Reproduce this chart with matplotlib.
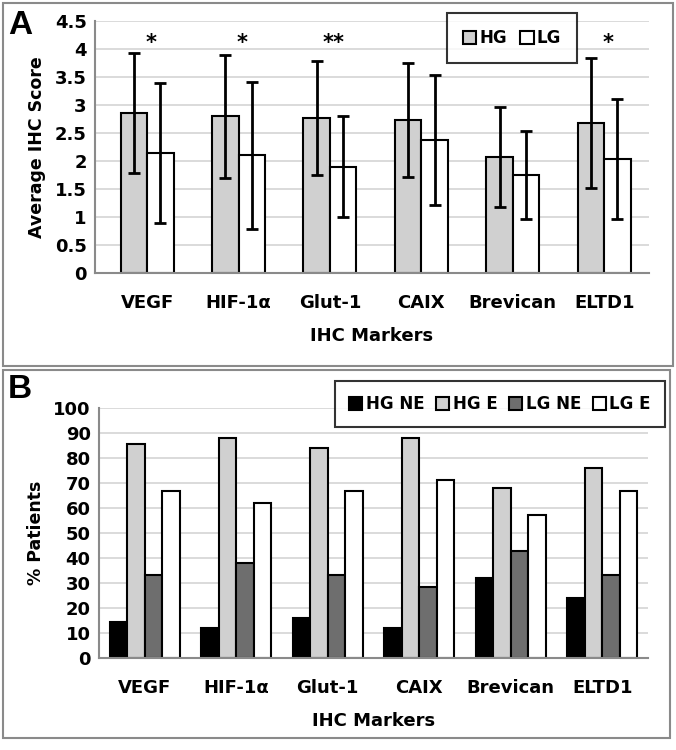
import numpy as np
import matplotlib
matplotlib.use("Agg")
import matplotlib.pyplot as plt
from matplotlib.patches import Rectangle

plt.rcParams['font.family'] = ['DejaVu Sans']
plt.rcParams['font.weight'] = 'bold'

markers         = ["VEGF", "HIF-1α", "Glut-1", "CAIX", "Brevican", "ELTD1"]

# panel A: average IHC score with SD
hg_score        = [2.85, 2.80, 2.77, 2.73, 2.07, 2.68]
hg_sd           = [1.07, 1.10, 1.02, 1.02, 0.90, 1.16]
lg_score        = [2.14, 2.10, 1.90, 2.38, 1.75, 2.04]
lg_sd           = [1.25, 1.31, 0.90, 1.16, 0.78, 1.07]
significance    = ["*", "*", "**", "", "", "*"]

# panel B: % patients
hg_ne           = [14.3, 12.0, 16.0, 12.0, 32.0, 24.0]
hg_e            = [85.7, 88.0, 84.0, 88.0, 68.0, 76.0]
lg_ne           = [33.3, 38.1, 33.3, 28.6, 42.9, 33.3]
lg_e            = [66.7, 61.9, 66.7, 71.4, 57.1, 66.7]

W, H = 676, 750
fig = plt.figure(figsize=(W / 100, H / 100), dpi=100)

def fx(px): return px / W
def fy(px): return 1 - px / H

# panel borders
for (x0, y0, x1, y1) in [(3, 3, 673, 366), (3, 370, 670, 738)]:
    fig.patches.append(Rectangle((fx(x0), fy(y1)), fx(x1 - x0), (y1 - y0) / H,
                                 transform=fig.transFigure, fill=False,
                                 edgecolor="#8a8a8a", linewidth=1.5))

x = np.arange(len(markers))
edge = dict(edgecolor="black", linewidth=1.5)


def style_axes(ax, ylabel, xlim):
    ax.set_xlim(*xlim)
    ax.set_xticks(x)
    ax.set_xticklabels(markers, fontsize=12, fontweight="bold")
    ax.tick_params(axis="both", length=0, labelsize=13)
    ax.tick_params(axis="x", pad=15)
    ax.tick_params(axis="y", pad=6)
    for lab in ax.get_yticklabels():
        lab.set_fontweight("bold")
    ax.yaxis.grid(True, color="#d4d4d4", linewidth=1.2)
    ax.set_axisbelow(True)
    for s in ["top", "right"]:
        ax.spines[s].set_visible(False)
    for s in ["left", "bottom"]:
        ax.spines[s].set_color("#8a8a8a")
        ax.spines[s].set_linewidth(1.5)
    ax.set_xlabel("IHC Markers", fontsize=13, fontweight="bold", labelpad=11)
    ax.set_ylabel(ylabel, fontsize=12.5, fontweight="bold", labelpad=6)


# ---- panel A
axA = fig.add_axes([fx(95), fy(273), fx(649 - 95), (273 - 21) / H])
bw = 0.29
axA.bar(x - bw / 2, hg_score, bw, color="#d0d0d0", **edge, label="HG")
axA.bar(x + bw / 2, lg_score, bw, color="white", **edge, label="LG")
axA.errorbar(x - bw / 2, hg_score, yerr=hg_sd, fmt="none", ecolor="black",
             elinewidth=2, capsize=4, capthick=2)
axA.errorbar(x + bw / 2, lg_score, yerr=lg_sd, fmt="none", ecolor="black",
             elinewidth=2, capsize=4, capthick=2)
for i, s in enumerate(significance):
    if s:
        axA.text(x[i] + 0.04, 4.1, s, ha="center", va="center", fontsize=15,
                 fontweight="bold")
axA.set_ylim(0, 4.5)
axA.set_yticks(np.arange(0, 4.51, 0.5))
axA.set_yticklabels(["0", "0.5", "1", "1.5", "2", "2.5", "3", "3.5", "4", "4.5"])
style_axes(axA, "Average IHC Score", (-0.57, 5.49))
legA = axA.legend(loc="center", bbox_to_anchor=(fx(512), fy(38)),
                  bbox_transform=fig.transFigure, ncol=2, frameon=True,
                  fancybox=False, edgecolor="black", fontsize=12,
                  handlelength=0.8, handleheight=0.8, handletextpad=0.2,
                  columnspacing=0.8, borderpad=0.95, borderaxespad=0)
legA.get_frame().set_linewidth(1.5)
for t in legA.get_texts():
    t.set_fontweight("bold")

# ---- panel B
axB = fig.add_axes([fx(99), fy(658), fx(648 - 99), (658 - 408) / H])
bw = 0.19
series = [(hg_ne, "black", "HG NE"), (hg_e, "#d0d0d0", "HG E"),
          (lg_ne, "#6e6e6e", "LG NE"), (lg_e, "white", "LG E")]
for k, (vals, col, lab) in enumerate(series):
    axB.bar(x + (k - 1.5) * bw, vals, bw, color=col, **edge, label=lab)
axB.set_ylim(0, 100)
axB.set_yticks(np.arange(0, 101, 10))
style_axes(axB, "% Patients", (-0.5, 5.5))
legB = axB.legend(loc="center", bbox_to_anchor=(fx(500), fy(404)),
                  bbox_transform=fig.transFigure, ncol=4, frameon=True,
                  fancybox=False, edgecolor="black", fontsize=12,
                  handlelength=0.8, handleheight=0.8, handletextpad=0.2,
                  columnspacing=0.7, borderpad=0.85, borderaxespad=0)
legB.get_frame().set_linewidth(1.5)
for t in legB.get_texts():
    t.set_fontweight("bold")

# panel letters
fig.text(fx(8), fy(25), "A", fontsize=24, fontweight="bold",
         family=["Liberation Sans", "DejaVu Sans"], va="center", ha="left")
fig.text(fx(8), fy(390), "B", fontsize=24, fontweight="bold",
         family=["Liberation Sans", "DejaVu Sans"], va="center", ha="left")

fig.savefig("out.png", dpi=100, facecolor="white")
